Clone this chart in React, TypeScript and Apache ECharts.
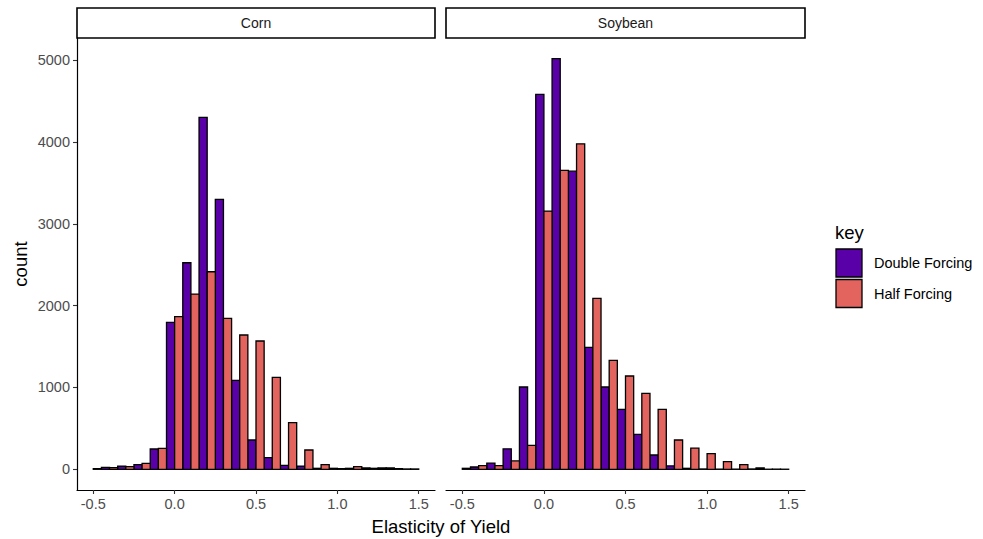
import React, { useEffect, useRef } from "react";
import * as echarts from "echarts";

// Bin centres (bin width 0.1; each bin split into two dodged halves)
const binCenters = [-0.5, -0.4, -0.3, -0.2, -0.1, 0.0, 0.1, 0.2, 0.3, 0.4, 0.5, 0.6, 0.7, 0.8, 0.9, 1.0, 1.1, 1.2, 1.3, 1.4, 1.5];

const cornDouble = [null, 24, 37, 57, 248, 1796, 2524, 4300, 3298, 1087, 358, 143, 49, 37, 12, 12, 12, 16, 16, 8, 4];
const cornHalf = [8, 20, 33, 73, 255, 1865, 2142, 2414, 1844, 1641, 1568, 1124, 570, 236, 57, 8, 33, 12, 16, 4, null];

const soyDouble = [null, 28, 75, 250, 1006, 4581, 5020, 3644, 1490, 1006, 733, 428, 175, 41, 12, 4, 2, 2, 4, 1, 1];
const soyHalf = [12, 45, 45, 102, 293, 3156, 3652, 3978, 2089, 1331, 1140, 928, 733, 358, 258, 191, 94, 56, 16, 2, null];

const facets = ["Corn", "Soybean"];
const keys = ["Double Forcing", "Half Forcing"];
const xTicks = [-0.5, 0, 0.5, 1.0, 1.5];
const yTicks = [0, 1000, 2000, 3000, 4000, 5000];

const COLORS = ["#5A00A8", "#E3645F"];
const FONT = "Liberation Sans, Arial, sans-serif";

function toPairs(vals: (number | null)[]) {
  const out: number[][] = [];
  vals.forEach((v, i) => {
    if (v !== null) out.push([binCenters[i], v]);
  });
  return out;
}

function makeSeries(gridIdx: number, keyIdx: number, vals: (number | null)[]) {
  const half = 0.05;
  return {
    type: "custom",
    name: keys[keyIdx],
    xAxisIndex: gridIdx,
    yAxisIndex: gridIdx,
    data: toPairs(vals),
    encode: { x: 0, y: 1 },
    renderItem: (params: any, api: any) => {
      const c = api.value(0);
      const v = api.value(1);
      const x0 = keyIdx === 0 ? c - half : c;
      const x1 = keyIdx === 0 ? c : c + half;
      const p0 = api.coord([x0, v]);
      const p1 = api.coord([x1, 0]);
      return {
        type: "rect",
        shape: { x: p0[0], y: p0[1], width: p1[0] - p0[0], height: p1[1] - p0[1] },
        style: { fill: COLORS[keyIdx], stroke: "#000", lineWidth: 1.3 },
      };
    },
  };
}

export default function App() {
  const ref = useRef<HTMLDivElement>(null);
  useEffect(() => {
    if (!ref.current) return;
    const chart = echarts.init(ref.current, undefined, { renderer: "svg" });
    const grids = [
      { left: 77, top: 38, width: 358, height: 452 },
      { left: 446, top: 38, width: 359, height: 452 },
    ];
    const xAxis = grids.map((_, i) => ({
      type: "value",
      gridIndex: i,
      min: -0.6,
      max: 1.6,
      splitLine: { show: false },
      axisLine: { show: true, onZero: false, lineStyle: { color: "#000", width: 1.2 } },
      axisTick: { show: true, customValues: xTicks, length: 4, lineStyle: { color: "#333", width: 1.1 } },
      axisLabel: {
        show: true,
        customValues: xTicks,
        margin: 6,
        color: "#4D4D4D",
        fontSize: 14.5,
        fontFamily: FONT,
        formatter: (v: number) => v.toFixed(1),
      },
    }));
    const yAxis = grids.map((_, i) => ({
      type: "value",
      gridIndex: i,
      min: -253,
      max: 5271,
      show: i === 0,
      splitLine: { show: false },
      axisLine: { show: true, onZero: false, lineStyle: { color: "#000", width: 1.2 } },
      axisTick: { show: true, customValues: yTicks, length: 4, lineStyle: { color: "#333", width: 1.1 } },
      axisLabel: {
        show: true,
        customValues: yTicks,
        margin: 7,
        color: "#4D4D4D",
        fontSize: 14.5,
        fontFamily: FONT,
        formatter: (v: number) => String(Math.round(v)),
      },
    }));

    const graphic: any[] = [];
    grids.forEach((g, i) => {
      graphic.push({
        type: "rect",
        shape: { x: g.left, y: 8, width: g.width, height: 30 },
        style: { fill: "#fff", stroke: "#000", lineWidth: 1.6 },
      });
      graphic.push({
        type: "text",
        x: g.left + g.width / 2,
        y: 23,
        style: {
          text: facets[i],
          fill: "#1A1A1A",
          font: `14px ${FONT}`,
          textAlign: "center",
          textVerticalAlign: "middle",
        },
      });
    });
    graphic.push({
      type: "text",
      x: 441,
      y: 526,
      style: { text: "Elasticity of Yield", fill: "#000", font: `18.5px ${FONT}`, textAlign: "center", textVerticalAlign: "middle" },
    });
    graphic.push({
      type: "text",
      x: 20,
      y: 264,
      rotation: Math.PI / 2,
      style: { text: "count", fill: "#000", font: `18.5px ${FONT}`, textAlign: "center", textVerticalAlign: "middle" },
    });
    graphic.push({
      type: "text",
      x: 835,
      y: 232,
      style: { text: "key", fill: "#000", font: `18.5px ${FONT}`, textAlign: "left", textVerticalAlign: "middle" },
    });
    keys.forEach((k, i) => {
      graphic.push({
        type: "rect",
        shape: { x: 836, y: 249 + i * 30.5, width: 26, height: 28 },
        style: { fill: COLORS[i], stroke: "#000", lineWidth: 1.3 },
      });
      graphic.push({
        type: "text",
        x: 874,
        y: 263 + i * 30.5,
        style: { text: k, fill: "#000", font: `14.5px ${FONT}`, textAlign: "left", textVerticalAlign: "middle" },
      });
    });

    chart.setOption({
      animation: false,
      backgroundColor: "#fff",
      grid: grids,
      xAxis,
      yAxis,
      series: [
        makeSeries(0, 0, cornDouble),
        makeSeries(0, 1, cornHalf),
        makeSeries(1, 0, soyDouble),
        makeSeries(1, 1, soyHalf),
      ],
      graphic,
    });
    return () => chart.dispose();
  }, []);
  return <div ref={ref} style={{ position: "fixed", left: 0, top: 0, width: 983, height: 539 }} />;
}
